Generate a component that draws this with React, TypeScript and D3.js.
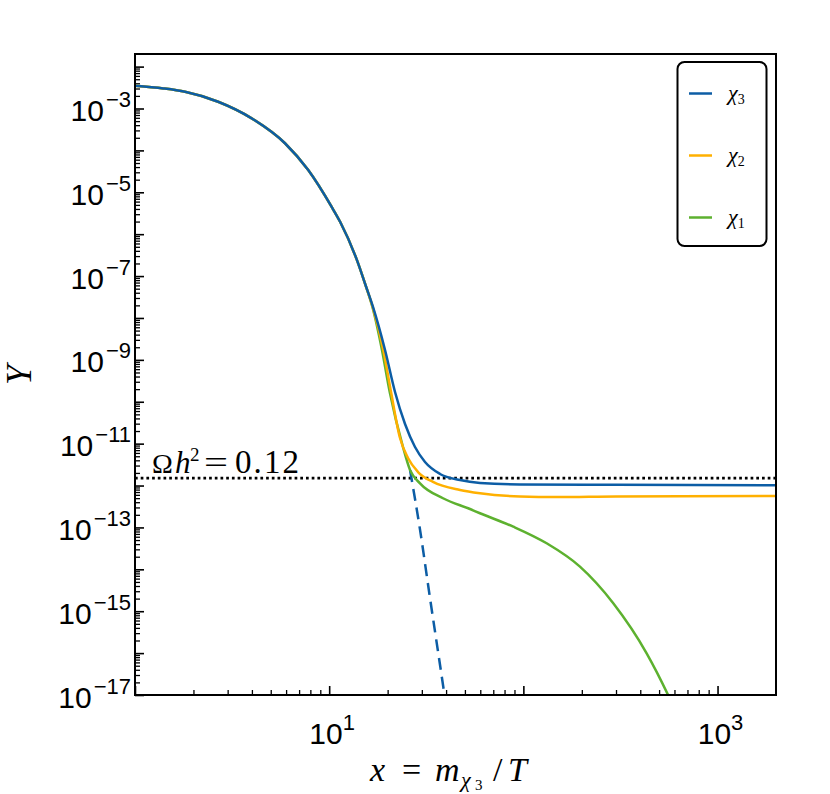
import { useEffect, useRef } from 'react';
import * as d3 from 'd3';

// axis limits
const xLim = [1, 2000];
const yLim = [1e-17, 2e-2];

// shared early part (all three species still in equilibrium)
const xEarly = [1, 1.4, 1.81, 2.68, 3.99, 5.92, 7.8, 10.3, 11.4, 13.9, 15.4];
const yEarly = [3.5e-3, 3.02e-3, 2.51e-3, 1.45e-3, 5.82e-4, 1.48e-4, 3.39e-5, 4.47e-6, 1.95e-6, 2.4e-7, 6.03e-8];

// chi_3
const xChi3 = [16.81, 19.39, 21.83, 24.58, 27.67, 31.15, 37.22, 47.19, 59.8, 96.1, 300, 2000];
const yChi3 = [1.83e-8, 1.72e-9, 1.71e-10, 2.94e-11, 8.32e-12, 3.65e-12, 1.89e-12, 1.35e-12, 1.15e-12, 1.06e-12, 1.04e-12, 1.02e-12];

// chi_2
const xChi2 = [16.75, 19.0, 20.82, 23.16, 25.46, 28.67, 34.24, 47.19, 59.8, 96.1, 150, 300, 2000];
const yChi2 = [1.83e-8, 1.72e-9, 1.71e-10, 1.36e-11, 4.55e-12, 2.1e-12, 1.22e-12, 7.83e-13, 6.53e-13, 5.48e-13, 5.3e-13, 5.5e-13, 5.6e-13];

// chi_1
const xChi1 = [16.7, 18.7, 20.5, 23.99, 26.08, 29.36, 38.56, 53.11, 59.78, 88.72, 131.8, 195.6, 290.4, 431.4, 557.2, 604];
const yChi1 = [1.83e-8, 1.72e-9, 1.71e-10, 8.32e-12, 2.35e-12, 1.13e-12, 4.97e-13, 2.75e-13, 2.18e-13, 1.04e-13, 4.18e-14, 1.16e-14, 1.55e-15, 9.9e-17, 9.84e-18, 4.38e-18];

// equilibrium of chi_3 (dashed)
const xEq = [26.1, 29.4, 33.0, 38.7, 39.5];
const yEq = [2.31e-12, 8.51e-14, 2.17e-15, 1.55e-17, 8.1e-18];

const relicY = 1.51e-12;

const yLabelExps = [-17, -15, -13, -11, -9, -7, -5, -3];
const xLabelExps = [1, 3];

const seriesNames = ['χ', 'χ', 'χ'];
const seriesSubs = ['3', '2', '1'];
const colors = ['#0c5da5', '#ffb000', '#5db12f'];

const App = () => {
  const svgRef = useRef(null);

  useEffect(() => {
    const svgEl = d3.select(svgRef.current);
    svgEl.selectAll('*').remove();

    const left = 135, right = 776, top = 54, bottom = 695;

    const x = d3.scaleLog().domain(xLim).range([left, right]);
    const y = d3.scaleLog().domain(yLim).range([bottom, top]);

    svgEl.append('rect').attr('width', 830).attr('height', 794).attr('fill', '#fff');

    svgEl.append('defs').append('clipPath').attr('id', 'plotclip')
      .append('rect')
      .attr('x', left).attr('y', top)
      .attr('width', right - left).attr('height', bottom - top);

    // ticks
    const majorX = [1, 10, 100, 1000];
    const minorX = [];
    for (let d = 0; d <= 3; d++) for (let k = 2; k <= 9; k++) {
      const v = k * Math.pow(10, d);
      if (v < xLim[1]) minorX.push(v);
    }
    const majorY = d3.range(-17, -1).map(e => Math.pow(10, e));
    const minorY = [];
    for (let d = -17; d <= -2; d++) for (let k = 2; k <= 9; k++) {
      const v = k * Math.pow(10, d);
      if (v < yLim[1]) minorY.push(v);
    }

    const styleAxis = (g, w) => {
      g.select('.domain').remove();
      g.selectAll('line').attr('stroke', '#000').attr('stroke-width', w);
      g.selectAll('text').remove();
    };

    svgEl.append('g').attr('transform', `translate(0,${bottom})`)
      .call(d3.axisBottom(x).tickValues(minorX).tickSize(-5).tickFormat(() => ''))
      .call(g => styleAxis(g, 1.3));
    svgEl.append('g').attr('transform', `translate(0,${bottom})`)
      .call(d3.axisBottom(x).tickValues(majorX).tickSize(-9).tickFormat(() => ''))
      .call(g => styleAxis(g, 1.6));
    svgEl.append('g').attr('transform', `translate(${left},0)`)
      .call(d3.axisLeft(y).tickValues(minorY).tickSize(-5).tickFormat(() => ''))
      .call(g => styleAxis(g, 1.3));
    svgEl.append('g').attr('transform', `translate(${left},0)`)
      .call(d3.axisLeft(y).tickValues(majorY).tickSize(-9).tickFormat(() => ''))
      .call(g => styleAxis(g, 1.6));

    // tick labels
    const sans = "'Liberation Sans', Arial, sans-serif";
    yLabelExps.forEach(e => {
      const t = svgEl.append('text')
        .attr('x', 131).attr('y', y(Math.pow(10, e)) + 12.5)
        .attr('text-anchor', 'end').attr('font-family', sans).attr('fill', '#000');
      t.append('tspan').attr('font-size', 30).text('10');
      t.append('tspan').attr('font-size', 22).attr('dx', 2).attr('dy', -14).text('−' + Math.abs(e));
    });
    xLabelExps.forEach(e => {
      const t = svgEl.append('text')
        .attr('x', x(Math.pow(10, e)) + 3).attr('y', 744)
        .attr('text-anchor', 'middle').attr('font-family', sans).attr('fill', '#000');
      t.append('tspan').attr('font-size', 30).text('10');
      t.append('tspan').attr('font-size', 22).attr('dy', -14).text(String(e));
    });

    const serif = "'Liberation Serif', 'Times New Roman', serif";
    const put = (px, py, str, size, italic) =>
      svgEl.append('text')
        .attr('x', px).attr('y', py)
        .attr('font-family', serif).attr('font-size', size)
        .attr('font-style', italic ? 'italic' : 'normal')
        .attr('fill', '#000').text(str);

    // x axis title: x = m_{chi_3}/T
    put(370, 781, 'x', 34, true);
    put(402, 781, '=', 34, false);
    put(435, 781, 'm', 34, true);
    put(461, 787, 'χ', 22, true);
    put(475, 790, '3', 15, false);
    put(493, 781, '/', 34, false);
    put(508, 781, 'T', 34, true);

    // y axis title
    svgEl.append('text')
      .attr('transform', 'translate(31,375) rotate(-90)')
      .attr('text-anchor', 'middle')
      .attr('font-family', serif).attr('font-style', 'italic')
      .attr('font-size', 36).attr('fill', '#000')
      .text('Y');

    // relic density line + label
    svgEl.append('line')
      .attr('x1', left).attr('x2', right)
      .attr('y1', y(relicY)).attr('y2', y(relicY))
      .attr('stroke', '#000').attr('stroke-width', 2.7)
      .attr('stroke-dasharray', '2.7 3');

    put(152, 472.5, 'Ω', 28, false);
    put(175, 472.5, 'h', 31, true);
    put(190, 461, '2', 19, false);
    put(204, 472.5, '=', 31, false).attr('textLength', 24).attr('lengthAdjust', 'spacingAndGlyphs');
    put(235, 472.5, '0.12', 33, false).attr('textLength', 64).attr('lengthAdjust', 'spacing');

    // curves
    const line = d3.line()
      .x(d => x(d[0]))
      .y(d => y(d[1]))
      .curve(d3.curveMonotoneX);

    const early = xEarly.map((v, i) => [v, yEarly[i]]);
    const curves = [
      early.concat(xChi3.map((v, i) => [v, yChi3[i]])),
      early.concat(xChi2.map((v, i) => [v, yChi2[i]])),
      early.concat(xChi1.map((v, i) => [v, yChi1[i]])),
    ];

    const plot = svgEl.append('g').attr('clip-path', 'url(#plotclip)');

    plot.append('path')
      .datum(xEq.map((v, i) => [v, yEq[i]]))
      .attr('fill', 'none')
      .attr('stroke', colors[0])
      .attr('stroke-width', 2.5)
      .attr('stroke-dasharray', '12 7')
      .attr('d', line);

    [2, 1, 0].forEach(i => {
      plot.append('path')
        .datum(curves[i])
        .attr('fill', 'none')
        .attr('stroke', colors[i])
        .attr('stroke-width', 2.5)
        .attr('stroke-linejoin', 'round')
        .attr('d', line);
    });

    // frame
    svgEl.append('rect')
      .attr('x', left).attr('y', top)
      .attr('width', right - left).attr('height', bottom - top)
      .attr('fill', 'none').attr('stroke', '#000').attr('stroke-width', 2);

    // legend
    const lg = svgEl.append('g');
    lg.append('rect')
      .attr('x', 677.5).attr('y', 62).attr('width', 89).attr('height', 184)
      .attr('rx', 7).attr('fill', '#fff').attr('stroke', '#000').attr('stroke-width', 2);
    seriesNames.forEach((name, i) => {
      const cy = 93.5 + i * 62;
      lg.append('line')
        .attr('x1', 689).attr('x2', 712).attr('y1', cy).attr('y2', cy)
        .attr('stroke', colors[i]).attr('stroke-width', 2.5);
      const t = lg.append('text')
        .attr('x', 728).attr('y', cy + 6)
        .attr('font-family', serif).attr('fill', '#000');
      t.append('tspan').attr('font-style', 'italic').attr('font-size', 22).text(name);
      t.append('tspan').attr('font-size', 14).attr('dy', 4).text(seriesSubs[i]);
    });
  }, []);

  return (
    <svg ref={svgRef} width={830} height={794}
      style={{ position: 'absolute', left: 0, top: 0 }} />
  );
};

export default App;
